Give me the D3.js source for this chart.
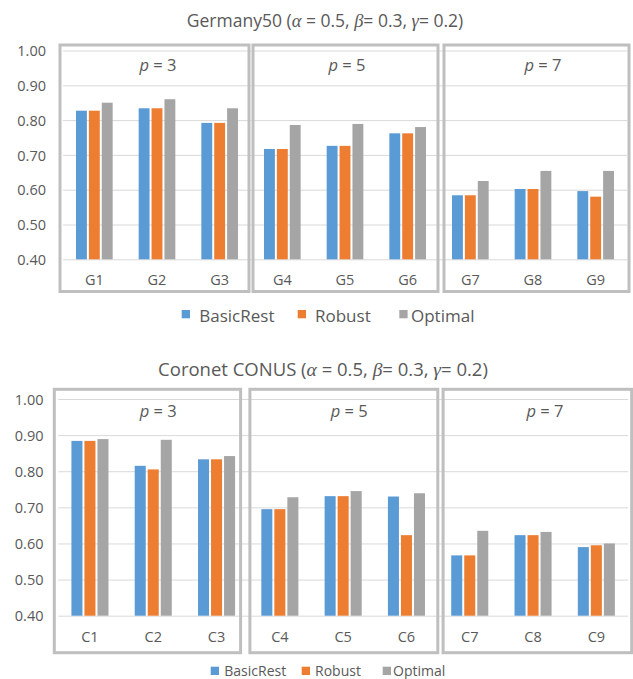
<!DOCTYPE html>
<html>
<head>
<meta charset="utf-8">
<script src="https://cdn.jsdelivr.net/npm/d3@7"></script>
<style>
  html, body { margin: 0; padding: 0; background: #fff; }
  svg { display: block; }
  text { font-family: "Open Sans", "Noto Sans", sans-serif; fill: #595959; }
</style>
</head>
<body>
<svg id="chart" width="633" height="679"></svg>
<script>
// ---------------- DATA ----------------
const seriesNames = ["BasicRest", "Robust", "Optimal"];
const seriesColors = ["#5B9BD5", "#ED7D31", "#A5A5A5"];
const yTicks = [0.40, 0.50, 0.60, 0.70, 0.80, 0.90, 1.00];
const groupP = ["3", "5", "7"];

const germanyTitle = "Germany50";
const germanyCategories = ["G1", "G2", "G3", "G4", "G5", "G6", "G7", "G8", "G9"];
const germanyBasicRest = [0.827, 0.834, 0.792, 0.717, 0.726, 0.762, 0.584, 0.602, 0.596];
const germanyRobust    = [0.827, 0.834, 0.792, 0.717, 0.726, 0.762, 0.584, 0.602, 0.580];
const germanyOptimal   = [0.850, 0.860, 0.834, 0.786, 0.789, 0.780, 0.625, 0.654, 0.654];

const coronetTitle = "Coronet CONUS";
const coronetCategories = ["C1", "C2", "C3", "C4", "C5", "C6", "C7", "C8", "C9"];
const coronetBasicRest = [0.884, 0.815, 0.833, 0.695, 0.731, 0.730, 0.567, 0.623, 0.590];
const coronetRobust    = [0.884, 0.805, 0.833, 0.695, 0.731, 0.623, 0.567, 0.623, 0.595];
const coronetOptimal   = [0.889, 0.887, 0.842, 0.728, 0.745, 0.739, 0.635, 0.632, 0.600];

// ---------------- DRAW ----------------
const svg = d3.select("#chart");

function drawPanel(cfg) {
  const g = svg.append("g");
  const x = d3.scaleBand().domain(cfg.categories).range([cfg.x0, cfg.x1])
    .paddingInner(0.383).paddingOuter(0.1915);
  const xs = d3.scaleBand().domain(seriesNames).range([0, x.bandwidth()]).padding(0);
  const y = d3.scaleLinear().domain([0.4, 1.0]).range([cfg.yBase, cfg.yTop]);
  const step = x.step();
  const rangeStart = cfg.x0;

  // title
  const t = g.append("text")
    .attr("x", cfg.titleX).attr("y", cfg.titleY)
    .attr("text-anchor", "middle")
    .style("font-size", cfg.titleSize + "px");
  const greek = (ch) => t.append("tspan").text(ch)
    .style("font-family", "'Liberation Serif', 'DejaVu Serif', serif")
    .style("font-style", "italic").style("font-size", (cfg.titleSize + 1) + "px");
  t.append("tspan").text(cfg.title + " (");
  greek("α"); t.append("tspan").text(" = 0.5, ");
  greek("β"); t.append("tspan").text("= 0.3, ");
  greek("γ"); t.append("tspan").text("= 0.2)");

  // gridlines
  g.append("g").selectAll("line").data(yTicks).join("line")
    .attr("x1", cfg.x0).attr("x2", cfg.x1)
    .attr("y1", d => y(d) + 0.5).attr("y2", d => y(d) + 0.5)
    .attr("stroke", "#D9D9D9").attr("stroke-width", 1);

  // y axis labels using d3 axis
  const yAxis = d3.axisLeft(y).tickValues(yTicks).tickFormat(d3.format(".2f")).tickSize(0).tickPadding(0);
  const ya = g.append("g").attr("transform", `translate(${cfg.yLabelX},0.5)`).call(yAxis);
  ya.select(".domain").remove();
  ya.selectAll("text").style("font-size", "14.5px").style("fill", "#595959")
    .style("font-family", "'Open Sans', sans-serif");

  // bars
  const rows = cfg.categories.map((c, i) => ({ cat: c, vals: cfg.series.map((s, j) => ({ name: seriesNames[j], v: s[i], j })) }));
  const cg = g.append("g").selectAll("g").data(rows).join("g")
    .attr("transform", d => `translate(${x(d.cat)},0)`);
  cg.selectAll("rect").data(d => d.vals).join("rect")
    .attr("x", d => xs(d.name) + 1)
    .attr("width", xs.bandwidth() - 2)
    .attr("y", d => y(d.v))
    .attr("height", d => y(0.4) - y(d.v))
    .attr("fill", d => seriesColors[d.j]);

  // category labels via axis
  const xAxis = d3.axisBottom(x).tickSize(0).tickPadding(0);
  const xa = g.append("g").attr("transform", `translate(0,${cfg.catY})`).call(xAxis);
  xa.select(".domain").remove();
  xa.selectAll("text").style("font-size", "14.5px").style("fill", "#595959")
    .style("font-family", "'Open Sans', sans-serif").attr("dy", "0.35em").attr("y", 0);

  // group boxes + p labels
  groupP.forEach((p, k) => {
    const left = rangeStart + k * 3 * step + cfg.boxL[k];
    const right = rangeStart + (k + 1) * 3 * step + cfg.boxR[k];
    g.append("rect")
      .attr("x", left).attr("y", cfg.boxTop)
      .attr("width", right - left).attr("height", cfg.boxBottom - cfg.boxTop)
      .attr("fill", "none").attr("stroke", "#BFBFBF").attr("stroke-width", 3);
    const mid = x(cfg.categories[k * 3 + 1]) + x.bandwidth() / 2 + cfg.pDx[k];
    const pt = g.append("text").attr("x", mid).attr("y", cfg.pY)
      .attr("text-anchor", "middle").attr("dy", "0.35em")
      .style("font-size", "16.5px");
    pt.append("tspan").text("p").style("font-style", "italic");
    pt.append("tspan").text(" = " + p);
  });

  // legend
  seriesNames.forEach((n, j) => {
    g.append("rect").attr("x", cfg.legSq[j]).attr("y", cfg.legY)
      .attr("width", cfg.legSize).attr("height", cfg.legSize).attr("fill", seriesColors[j]);
    g.append("text").attr("x", cfg.legTx[j]).attr("y", cfg.legBase)
      .style("font-size", cfg.legFont + "px").text(n);
  });
}

drawPanel({
  title: germanyTitle, titleX: 325, titleY: 27, titleSize: 17.5,
  categories: germanyCategories,
  series: [germanyBasicRest, germanyRobust, germanyOptimal],
  x0: 63, x1: 627, yBase: 259.3, yTop: 50.5, yLabelX: 46, catY: 280,
  boxTop: 45, boxBottom: 291.5, boxL: [-3, 2, 5], boxR: [-2, -1, 2],
  pY: 65, pDx: [1, 2, 10],
  legSq: [181.7, 297.7, 399.3], legTx: [199.3, 315, 411], legY: 310, legSize: 8.3, legBase: 321.5, legFont: 17
});

drawPanel({
  title: coronetTitle, titleX: 323, titleY: 376, titleSize: 18.5,
  categories: coronetCategories,
  series: [coronetBasicRest, coronetRobust, coronetOptimal],
  x0: 58.3, x1: 628, yBase: 615.7, yTop: 399, yLabelX: 43.5, catY: 637.3,
  boxTop: 389.3, boxBottom: 652.7, boxL: [-4, 1.7, 5], boxR: [-7.6, -0.3, 3.7],
  pY: 411.7, pDx: [5, 6, 12],
  legSq: [210.7, 301.7, 382.7], legTx: [224.3, 315, 393], legY: 666.7, legSize: 8.3, legBase: 675.7, legFont: 14
});
</script>
</body>
</html>
